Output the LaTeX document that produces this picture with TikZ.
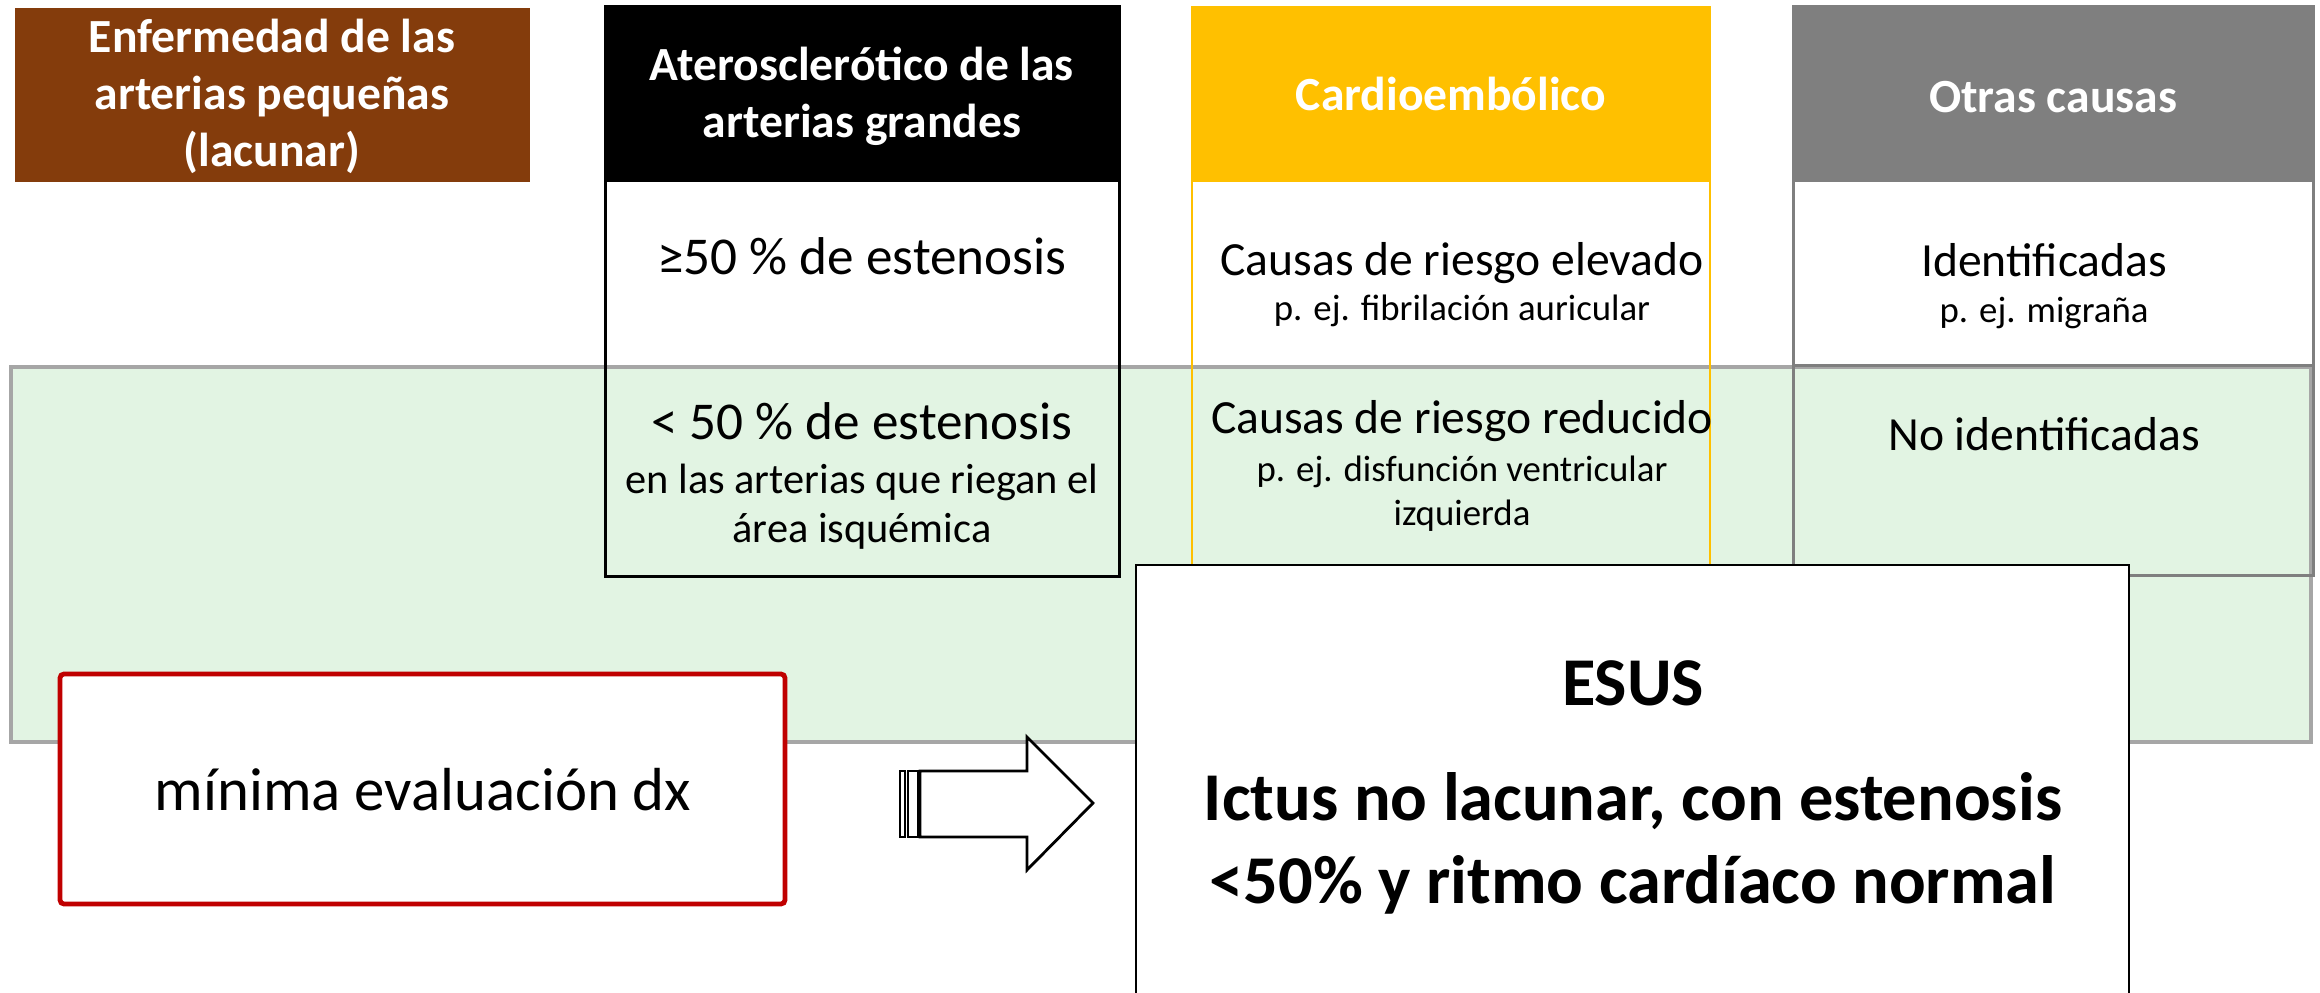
\documentclass[tikz,border=0pt]{standalone}
\usepackage{fontspec}
\setmainfont{Carlito}
\definecolor{lacbrown}{HTML}{843C0C}
\definecolor{cardyellow}{HTML}{FFC000}
\definecolor{othergray}{HTML}{7F7F7F}
\definecolor{bandgreen}{HTML}{E2F4E3}
\definecolor{bandline}{HTML}{A6A6A6}
\definecolor{dxred}{HTML}{C00000}

\begin{document}
\begin{tikzpicture}[x=0.25pt,y=-0.25pt,
	hdr/.style={anchor=base,inner sep=0pt,text=white,font=\fontsize{11.9}{14}\selectfont\bfseries},
	bigtxt/.style={anchor=base,inner sep=0pt,font=\fontsize{11.9}{14}\selectfont},
	stentxt/.style={anchor=base,inner sep=0pt,font=\fontsize{13.3}{16}\selectfont},
	midtxt/.style={anchor=base,inner sep=0pt,font=\fontsize{10.6}{13}\selectfont},
	smalltxt/.style={anchor=base,inner sep=0pt,font=\fontsize{9.2}{11}\selectfont},
	esustxt/.style={anchor=base,inner sep=0pt,font=\fontsize{17.1}{20}\selectfont\bfseries}]
	\useasboundingbox (0,0) rectangle (2320,993);

	% green band
	\draw[bandline,line width=0.8pt,fill=bandgreen] (11,367) rectangle (2311,742);

	% headers and columns
	\fill[lacbrown] (15,8) rectangle (530,182);
	\fill[black] (605,7) rectangle (1119,182);
	\fill[cardyellow] (1192,7) rectangle (1710,182);
	\fill[othergray] (1793,7) rectangle (2313,182);
	\draw[line width=0.75pt] (605,7) rectangle (1119,577);
	\draw[cardyellow,line width=0.7pt] (1192,7) rectangle (1710,600);
	\draw[othergray,line width=0.75pt] (1793,7) rectangle (2313,576);
	\draw[othergray,line width=0.75pt] (1793,366) -- (2313,366);

	\node[hdr] (lac1) at (272,53) {Enfermedad de las};
	\node[hdr] (lac2) at (272,110) {arterias pequeñas};
	\node[hdr] (lac3) at (272,167) {(lacunar)};
	\node[hdr] (ath1) at (862,81) {Aterosclerótico de las};
	\node[hdr] (ath2) at (862,138) {arterias grandes};
	\node[hdr] (card) at (1451,111) {Cardioembólico};
	\node[hdr] (otras) at (2053,113) {Otras causas};

	\node[stentxt] (ge50) at (862,275) {≥50 \% de estenosis};
	\node[stentxt] (lt50) at (862,440) {< 50 \% de estenosis};
	\node[midtxt] (lt50a) at (862,494) {en las arterias que riegan el};
	\node[midtxt] (lt50b) at (862,543) {área isquémica};

	\node[bigtxt] (high) at (1462,276) {Causas de riesgo elevado};
	\node[smalltxt] (higha) at (1462,321) {p. ej. fibrilación auricular};
	\node[bigtxt] (low) at (1462,434) {Causas de riesgo reducido};
	\node[smalltxt] (lowa) at (1462,482) {p. ej. disfunción ventricular};
	\node[smalltxt] (lowb) at (1462,526) {izquierda};

	\node[bigtxt] (ident) at (2044,277) {Identificadas};
	\node[smalltxt] (identa) at (2044,323) {p. ej. migraña};
	\node[bigtxt] (noident) at (2044,451) {No identificadas};

	% minimal work-up
	\draw[dxred,line width=1.2pt,fill=white,rounded corners=1pt] (60,674) rectangle (785,904);
	\node[anchor=base,inner sep=0pt,font=\fontsize{15.2}{18}\selectfont] (dx) at (423,810) {mínima evaluación dx};

	% block arrow
	\draw[line width=0.7pt,fill=white] (900,771) rectangle (905,837);
	\draw[line width=0.7pt,fill=white] (908,771) rectangle (918,837);
	\draw[line width=0.7pt,fill=white] (920,771) -- (1027,771) -- (1027,737) -- (1093,803)
		-- (1027,870) -- (1027,837) -- (920,837) -- cycle;

	% ESUS
	\fill[white] (1136,565) rectangle (2129,993);
	\draw[line width=0.7pt] (1136,993) -- (1136,565) -- (2129,565) -- (2129,993);
	\node[esustxt] (esus) at (1633,705) {ESUS};
	\node[esustxt] (esusa) at (1633,820) {Ictus no lacunar, con estenosis};
	\node[esustxt] (esusb) at (1633,903) {<50\% y ritmo cardíaco normal};
\end{tikzpicture}
\end{document}
